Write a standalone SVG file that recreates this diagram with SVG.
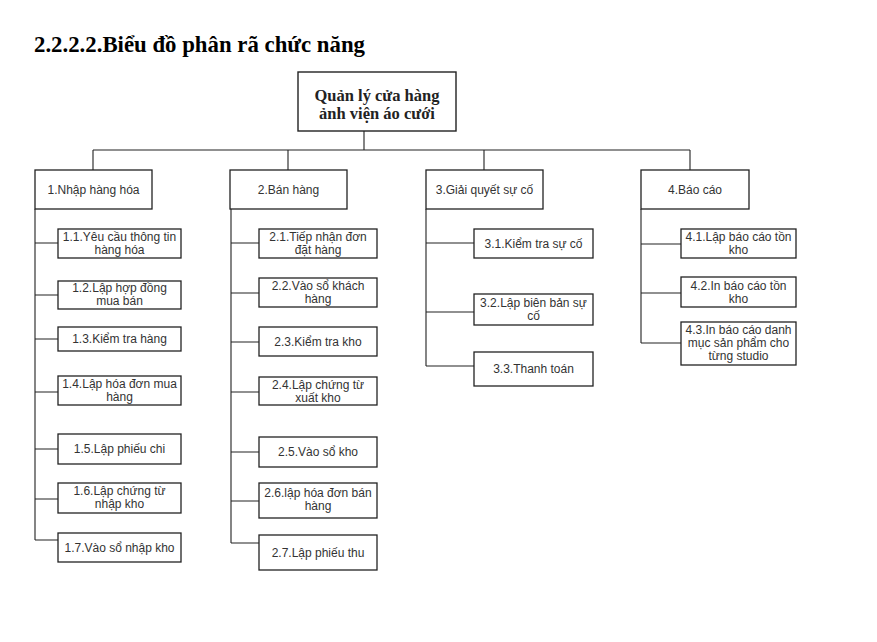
<svg xmlns="http://www.w3.org/2000/svg" width="877" height="642" viewBox="0 0 877 642">
<style>
.bg{fill:#ffffff}
.title{font-family:"Liberation Serif","Times New Roman",serif;font-weight:bold;font-size:22.5px;fill:#000}
.root rect{fill:#fff;stroke:#222;stroke-width:1.4}
.root text{font-family:"Liberation Serif","Times New Roman",serif;font-weight:bold;font-size:16.5px;fill:#222;text-anchor:middle}
.node rect{fill:#fff;stroke:#222;stroke-width:1.3}
.node text{font-family:"Liberation Sans",Arial,sans-serif;font-size:12px;fill:#333;text-anchor:middle}
.conn path{fill:none;stroke:#222;stroke-width:1.1}
</style>
<rect class="bg" x="0" y="0" width="877" height="642"/>
<text class="title" x="34" y="52" textLength="331" lengthAdjust="spacingAndGlyphs">2.2.2.2.Biểu đồ phân rã chức năng</text>

<g id="connectors" class="conn">
<path d="M364,131V150M93,150H690M93,150V170M288,150V170M484,150V170M690,150V170"/>
<path d="M35,209V540M35,243H58M35,295H58M35,339H58M35,392H58M35,449H58M35,499H58M35,540H58"/>
<path d="M231,209V543M231,243H259M231,293H259M231,342H259M231,392H259M231,452H259M231,501H259M231,543H259"/>
<path d="M426,209V366M426,243H474M426,312H474M426,366H474"/>
<path d="M641,209V343M641,244H681M641,293H681M641,343H681"/>
</g>

<g id="root" class="root"><rect x="298" y="72" width="158" height="59"/><text x="377" y="101">Quản lý cửa hàng</text><text x="377" y="119">ảnh viện áo cưới</text></g>

<g id="n1" class="node"><rect x="35" y="170" width="117" height="39"/><text x="93.5" y="194">1.Nhập hàng hóa</text></g>
<g id="n2" class="node"><rect x="230" y="170" width="117" height="39"/><text x="288.5" y="194">2.Bán hàng</text></g>
<g id="n3" class="node"><rect x="426" y="170" width="117" height="39"/><text x="484.5" y="194">3.Giải quyết sự cố</text></g>
<g id="n4" class="node"><rect x="641" y="170" width="108" height="39"/><text x="695" y="194">4.Báo cáo</text></g>

<g id="n1_1" class="node"><rect x="58" y="229" width="123" height="29"/><text x="119.5" y="241">1.1.Yêu cầu thông tin</text><text x="119.5" y="254">hàng hóa</text></g>
<g id="n1_2" class="node"><rect x="58" y="281" width="123" height="28"/><text x="119.5" y="292">1.2.Lập hợp đồng</text><text x="119.5" y="305">mua bán</text></g>
<g id="n1_3" class="node"><rect x="58" y="327" width="123" height="24"/><text x="119.5" y="343">1.3.Kiểm tra hàng</text></g>
<g id="n1_4" class="node"><rect x="58" y="376" width="123" height="29"/><text x="119.5" y="388">1.4.Lập hóa đơn mua</text><text x="119.5" y="401">hàng</text></g>
<g id="n1_5" class="node"><rect x="58" y="434" width="123" height="30"/><text x="119.5" y="453">1.5.Lập phiếu chi</text></g>
<g id="n1_6" class="node"><rect x="58" y="483" width="123" height="30"/><text x="119.5" y="495">1.6.Lập chứng từ</text><text x="119.5" y="508">nhập kho</text></g>
<g id="n1_7" class="node"><rect x="58" y="533" width="123" height="29"/><text x="119.5" y="552">1.7.Vào sổ nhập kho</text></g>

<g id="n2_1" class="node"><rect x="259" y="229" width="118" height="29"/><text x="318" y="241">2.1.Tiếp nhận đơn</text><text x="318" y="254">đặt hàng</text></g>
<g id="n2_2" class="node"><rect x="259" y="278" width="118" height="29"/><text x="318" y="290">2.2.Vào sổ khách</text><text x="318" y="303">hàng</text></g>
<g id="n2_3" class="node"><rect x="259" y="327" width="118" height="29"/><text x="318" y="346">2.3.Kiểm tra kho</text></g>
<g id="n2_4" class="node"><rect x="259" y="377" width="118" height="28"/><text x="318" y="389">2.4.Lập chứng từ</text><text x="318" y="402">xuất kho</text></g>
<g id="n2_5" class="node"><rect x="259" y="437" width="118" height="30"/><text x="318" y="456">2.5.Vào sổ kho</text></g>
<g id="n2_6" class="node"><rect x="259" y="483" width="118" height="35"/><text x="318" y="497">2.6.lập hóa đơn bán</text><text x="318" y="510">hàng</text></g>
<g id="n2_7" class="node"><rect x="259" y="535" width="118" height="35"/><text x="318" y="557">2.7.Lập phiếu thu</text></g>

<g id="n3_1" class="node"><rect x="474" y="229" width="119" height="29"/><text x="533.5" y="248">3.1.Kiểm tra sự cố</text></g>
<g id="n3_2" class="node"><rect x="474" y="294" width="119" height="31"/><text x="533.5" y="307">3.2.Lập biên bản sự</text><text x="533.5" y="320">cố</text></g>
<g id="n3_3" class="node"><rect x="474" y="352" width="119" height="34"/><text x="533.5" y="373">3.3.Thanh toán</text></g>

<g id="n4_1" class="node"><rect x="681" y="229" width="115" height="29"/><text x="738.5" y="241">4.1.Lập báo cáo tồn</text><text x="738.5" y="254">kho</text></g>
<g id="n4_2" class="node"><rect x="681" y="277" width="115" height="30"/><text x="738.5" y="290">4.2.In báo cáo tồn</text><text x="738.5" y="303">kho</text></g>
<g id="n4_3" class="node"><rect x="681" y="322" width="115" height="43"/><text x="738.5" y="334">4.3.In báo cáo danh</text><text x="738.5" y="347">mục sản phẩm cho</text><text x="738.5" y="360">từng studio</text></g>
</svg>
